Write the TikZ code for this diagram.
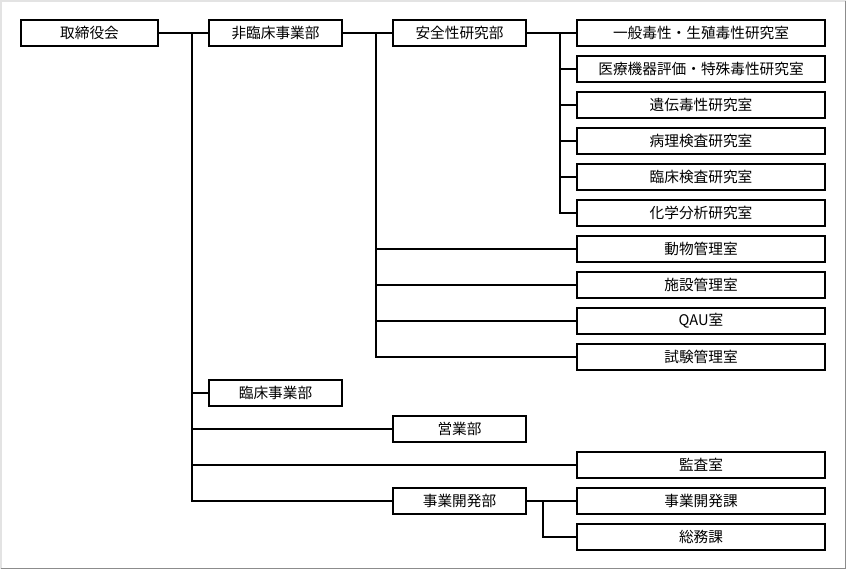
\documentclass[tikz,border=0pt]{standalone}
\usepackage{fontspec}
\newfontfamily\jpfont{Noto Sans CJK JP}
\usetikzlibrary{calc}
\definecolor{framelight}{HTML}{E3E3E3}
\definecolor{framedark}{HTML}{8C8C8C}
\tikzset{
  unit/.style={rectangle,draw=black,line width=0.8pt,fill=white,minimum height=19.5pt,inner sep=0pt,font=\jpfont\fontsize{11}{13}\selectfont},
  topbox/.style={unit,minimum width=102.75pt},
  deptbox/.style={unit,minimum width=99.75pt},
  roombox/.style={unit,minimum width=186pt},
  link/.style={line width=0.8pt,black}
}

\begin{document}
\begin{tikzpicture}[x=0.75pt,y=-0.75pt]
  \fill[white] (0,0) rectangle (847,571);
  \useasboundingbox (0,0) rectangle (847,571);
  % frame
  \draw[framelight,line width=1.2pt] (1,568.5) -- (1,1) -- (845.5,1);
  \draw[framedark,line width=1.2pt] (1,568.5) -- (845.5,568.5) -- (845.5,1);
  % units
  \node[topbox] (board) at (89.5,33) {取締役会};
  \node[deptbox] (nonclin) at (275.5,33) {非臨床事業部};
  \node[deptbox] (safety) at (459.5,33) {安全性研究部};
  \foreach \txt [count=\i] in {一般毒性・生殖毒性研究室,医療機器評価・特殊毒性研究室,遺伝毒性研究室,病理検査研究室,臨床検査研究室,化学分析研究室,動物管理室,施設管理室,QAU室,試験管理室}
    \node[roombox] (room\i) at (701,{33+36*(\i-1)}) {\txt};
  \node[deptbox] (clin) at (275.5,393) {臨床事業部};
  \node[deptbox] (sales) at (459.5,429) {営業部};
  \node[roombox] (audit) at (701,465) {監査室};
  \node[deptbox] (bizdev) at (459.5,501) {事業開発部};
  \node[roombox] (bizsec) at (701,501) {事業開発課};
  \node[roombox] (admin) at (701,537) {総務課};
  % connectors
  \coordinate (spineA) at (192,33);
  \coordinate (spineB) at (376,33);
  \coordinate (spineC) at (560,33);
  \coordinate (spineD) at (543,501);
  \draw[link] (board) -- (nonclin);
  \draw[link] (nonclin) -- (safety);
  \draw[link] (safety) -- (room1);
  \draw[link] (bizdev) -- (bizsec);
  \draw[link] (spineA) |- (bizdev);
  \foreach \n in {clin,sales,audit}
    \draw[link] (spineA |- \n) -- (\n);
  \draw[link] (spineB) |- (room10);
  \foreach \i in {7,8,9}
    \draw[link] (spineB |- room\i) -- (room\i);
  \draw[link] (spineC) |- (room6);
  \foreach \i in {2,...,5}
    \draw[link] (spineC |- room\i) -- (room\i);
  \draw[link] (spineD) |- (admin);
\end{tikzpicture}
\end{document}
